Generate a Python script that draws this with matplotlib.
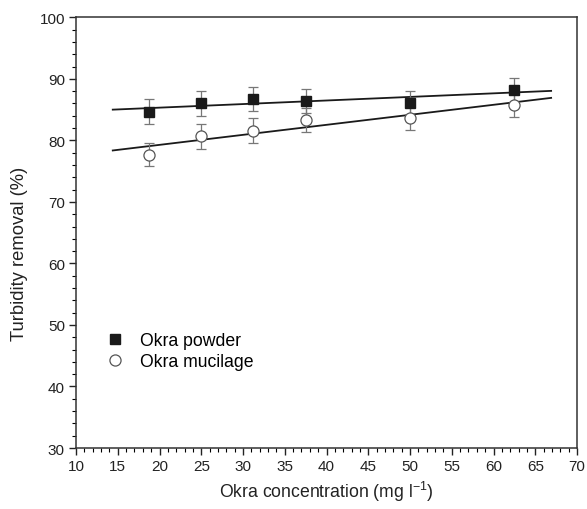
import numpy as np
import matplotlib.pyplot as plt
from matplotlib.ticker import MultipleLocator

plt.rcParams['font.family'] = ['Liberation Sans', 'DejaVu Sans']
plt.rcParams['mathtext.fontset'] = 'custom'
plt.rcParams['mathtext.rm'] = 'Liberation Sans'

# data
conc = [18.75, 25, 31.25, 37.5, 50, 62.5]
powder = [84.65, 86.0, 86.7, 86.4, 86.1, 88.2]
powder_err = [2.0, 2.0, 2.0, 2.0, 2.0, 1.9]
mucilage = [77.7, 80.65, 81.6, 83.3, 83.7, 85.8]
mucilage_err = [1.9, 2.0, 2.0, 1.9, 2.0, 2.0]
fit_range = [14.4, 66.9]

fig = plt.figure(figsize=(5.87, 5.1), dpi=100)
ax = fig.add_axes([0.1295, 0.1196, 0.8535, 0.8444])

ax.errorbar(conc, powder, yerr=powder_err, fmt='s', color='#1a1a1a', ms=6.5,
            ecolor='#777777', elinewidth=0.9, capsize=3.5, capthick=0.9,
            label='Okra powder', zorder=3)
ax.errorbar(conc, mucilage, yerr=mucilage_err, fmt='o', mfc='white', mec='#555555',
            mew=0.9, ms=8, ecolor='#777777', elinewidth=0.9, capsize=3.5,
            capthick=0.9, label='Okra mucilage', zorder=3)

# linear fits
xf = np.array(fit_range)
for y in (powder, mucilage):
    p = np.polyfit(conc, y, 1)
    ax.plot(xf, np.polyval(p, xf), color='#1a1a1a', lw=1.3, zorder=2)

ax.set_xlim(10, 70)
ax.set_ylim(30, 100)
ax.xaxis.set_major_locator(MultipleLocator(5))
ax.xaxis.set_minor_locator(MultipleLocator(1))
ax.yaxis.set_major_locator(MultipleLocator(10))
ax.yaxis.set_minor_locator(MultipleLocator(2))
ax.tick_params(which='major', direction='out', length=5, width=1, labelsize=11,
               colors='#222222', pad=3)
ax.tick_params(which='minor', direction='out', length=3, width=0.8)
for s in ax.spines.values():
    s.set_linewidth(1.1)
    s.set_color('#333333')

ax.set_xlabel('Okra concentration (mg l$^{\\mathregular{-1}}$)', fontsize=12.7, color='#222222')
ax.xaxis.set_label_coords(0.5, -0.072)
ax.set_ylabel('Turbidity removal (%)', fontsize=13.2, color='#222222')
ax.yaxis.set_label_coords(-0.112, 0.452)
ax.yaxis.label.set_va('center')

h, l = ax.get_legend_handles_labels()
h = [x[0] for x in h]
ax.legend(h, l, loc='lower left', bbox_to_anchor=(0.025, 0.145), frameon=False,
          fontsize=12.7, handletextpad=0.8, labelspacing=0.2, handlelength=1.2)

fig.savefig('out.png', dpi=100)
